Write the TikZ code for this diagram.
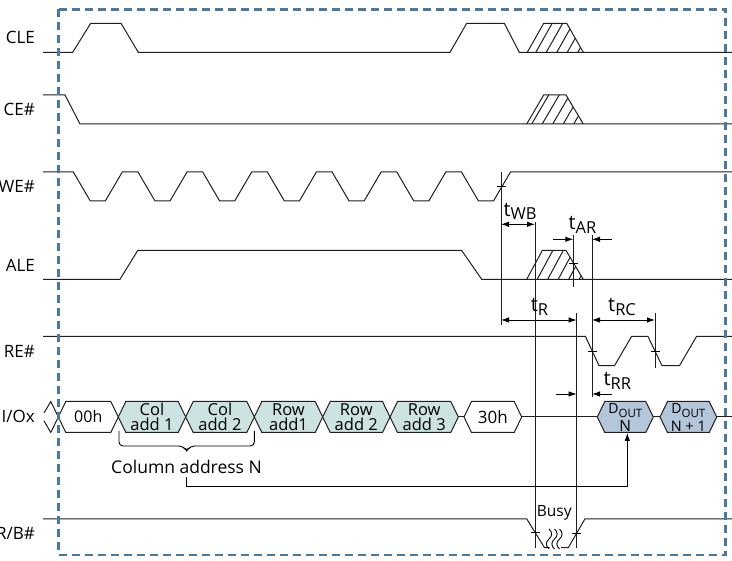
\documentclass[tikz,border=0pt]{standalone}
\usepackage{fontspec}
\setmainfont{Open Sans}
\usetikzlibrary{arrows.meta}
\definecolor{brd}{RGB}{72,121,163}
\definecolor{tealf}{RGB}{204,227,226}
\definecolor{doutf}{RGB}{180,198,217}
\newcommand{\tsub}[2]{t\raisebox{-#1}{\fontsize{16.5}{16.5}\selectfont #2}}
\newcommand{\hatchtrap}[7]{%
  \begin{scope}
    \clip (#3,#1) -- (#4,#2) -- (#5,#2) -- (#6,#1) -- cycle;
    \foreach \k in {0,...,6} \draw[sig] ({#3+#7+10.5*\k},#1) -- ++({#4-#3},{#2-#1});
  \end{scope}
  \draw[sig] (#3,#1) -- (#4,#2) -- (#5,#2) -- (#6,#1);
}
\newcommand{\hexpath}[3]{%
  \draw[sig, fill=#3] (#1,417) -- ({#1+7.5},401.5) -- ({#2-7.5},401.5) -- (#2,417) -- ({#2-7.5},432.5) -- ({#1+7.5},432.5) -- cycle;
}
\begin{document}
\begin{tikzpicture}[x=1pt,y=-1pt,
  sig/.style={line width=1pt, draw=black!88},
  guide/.style={line width=0.9pt, draw=black!88},
  lab/.style={anchor=east, inner sep=0pt, font=\fontsize{17}{17}\selectfont},
  hext/.style={inner sep=0pt, align=center, font=\fontsize{16.5}{15.5}\selectfont},
  tlab/.style={anchor=base west, inner sep=0pt, font=\fontsize{20}{20}\selectfont},
  dimar/.style={line width=0.9pt, {Latex[length=8pt,width=5.5pt]}-{Latex[length=8pt,width=5.5pt]}},
  onear/.style={line width=0.9pt, -{Latex[length=8pt,width=5.5pt]}},
  tickm/.style={line width=0.9pt}]
\fill[white] (0,0) rectangle (732,561);
\useasboundingbox (0,0) rectangle (732,561);

% labels
\node[lab] (lcle) at (35,37.5) {CLE};
\node[lab] (lce) at (35,109.5) {CE\#};
\node[lab] (lwe) at (35,186.5) {WE\#};
\node[lab] (lale) at (35,265) {ALE};
\node[lab] (lre) at (35,351) {RE\#};
\node[lab] (lio) at (35,416) {I/Ox};
\node[lab] (lrb) at (35,533) {R/B\#};

% CLE
\draw[sig] (43,52.3) -- (72.7,52.3) -- (90.7,23.3) -- (121,23.3) -- (138.3,52.3) -- (450,52.3) -- (466.7,23.3) -- (504.3,23.3) -- (519.3,52.3) -- (732,52.3);
\hatchtrap{52.3}{23.3}{527.3}{543.7}{566.7}{583.3}{8.5}
% CE#
\draw[sig] (43,95) -- (65,95) -- (80,124) -- (732,124);
\hatchtrap{124}{95}{526.7}{543.7}{566}{583.3}{5}
% WE#
\draw[sig] (43,172) \foreach \k in {0,...,6} { -- ({73.3+64.7*\k},172) -- ({90.3+64.7*\k},201) -- ({105.3+64.7*\k},201) -- ({122.3+64.7*\k},172) } -- (732,172);
% ALE
\draw[sig] (43,279.3) -- (120,279.3) -- (137.7,250.5) -- (461.7,250.5) -- (481.7,279.3) -- (732,279.3);
\hatchtrap{279.3}{250.5}{526.7}{542.3}{566}{583.3}{10.5}
% RE#
\draw[sig] (43,336.5) -- (585.5,336.5) -- (599,365.7) -- (614.5,365.7) -- (631.5,336.5) -- (648,336.5) -- (662,365.7) -- (679.5,365.7) -- (696.5,336.5) -- (732,336.5);
% R/B#
\draw[sig] (43,518.8) -- (526.7,518.8) -- (544.5,547.7) -- (549.5,547.7);
\draw[sig] (561,547.7) -- (568.3,547.7) -- (585,518.8) -- (732,518.8);
\foreach \xx in {549,554.5,559.5}
  \draw[line width=0.9pt] (\xx,529) .. controls ({\xx+3.5},532) and ({\xx+3.5},536) .. (\xx,539) .. controls ({\xx-3.5},542) and ({\xx-3.5},546) .. (\xx,549);
\node[inner sep=0pt, font=\fontsize{15.5}{15.5}\selectfont] (busy) at (554.3,513.3) {Busy};

% I/O bus
\draw[sig] (44,413) -- (50.8,401.5) -- (58.3,417) -- (50.8,432.5) -- (44,421);
\draw[sig] (458.3,417) -- (464,417);
\draw[sig] (521.7,417) -- (597.3,417);
\draw[sig] (653.3,417) -- (660,417);
\draw[sig] (716.7,417) -- (732,417);
\hexpath{58.3}{118.3}{white}
\hexpath{118.3}{185.7}{tealf}
\hexpath{185.7}{254.3}{tealf}
\hexpath{254.3}{322.7}{tealf}
\hexpath{322.7}{390}{tealf}
\hexpath{390}{458.3}{tealf}
\hexpath{464}{521.7}{white}
\hexpath{597.3}{653.3}{doutf}
\hexpath{660}{716.7}{doutf}
\node[hext, font=\fontsize{16}{16}\selectfont] (h00) at (88.3,417) {00h};
\node[hext] (hc1) at (152,417) {Col\\add 1};
\node[hext] (hc2) at (220,417) {Col\\add 2};
\node[hext] (hr1) at (288.5,417) {Row\\add1};
\node[hext] (hr2) at (356.3,417) {Row\\add 2};
\node[hext] (hr3) at (424.2,417) {Row\\add 3};
\node[hext, font=\fontsize{17}{17}\selectfont] (h30) at (492.8,417) {30h};
\node[anchor=base, inner sep=0pt, font=\fontsize{14}{14}\selectfont] (doutNa) at (625.3,413.3) {D\raisebox{-4.5pt}{\fontsize{11.5}{11.5}\selectfont OUT}};
\node[anchor=base, inner sep=0pt, font=\fontsize{15.5}{15.5}\selectfont] (doutNb) at (625.3,431.7) {N};
\node[anchor=base, inner sep=0pt, font=\fontsize{14}{14}\selectfont] (doutMa) at (688.3,413.3) {D\raisebox{-4.5pt}{\fontsize{11.5}{11.5}\selectfont OUT}};
\node[anchor=base, inner sep=0pt, font=\fontsize{14.5}{14.5}\selectfont] (doutMb) at (688.3,431.7) {N + 1};

% brace and column address
\draw[line width=0.9pt, rounded corners=4pt] (119,431) -- (119,446) -- (183,446) -- (186.7,451.5) -- (190.4,446) -- (254.3,446) -- (254.3,431);
\node[inner sep=3.5pt, font=\fontsize{17.5}{17.5}\selectfont] (coladdr) at (186.5,467) {Column address N};
\coordinate (turn) at (627.3,486);
\coordinate (doutbot) at (627.3,433);
\draw[onear] (coladdr.south) |- (turn) -- (doutbot);

% guide lines
\draw[guide] (501,171.7) -- (501,325);
\draw[guide] (535,221.7) -- (535,548);
\draw[guide] (573.3,235) -- (573.3,287.3);
\draw[guide] (576.7,313) -- (576.7,548);
\draw[guide] (592,235) -- (592,397);
\draw[guide] (655,313) -- (655,368);
% ticks
\foreach \px/\py in {501/186.5, 573.3/263, 592/351, 655/351, 535/532.3, 576.7/533}
  \draw[tickm] ({\px-4.5},\py) -- ({\px+4.5},\py);

% timing arrows
\draw[dimar] (501,224.3) -- (535,224.3);
\draw[onear] (553.3,239.3) -- (573.3,239.3);
\draw[onear] (612.3,239.3) -- (592,239.3);
\draw[dimar] (501,320) -- (576.7,320);
\draw[dimar] (592,320) -- (655,320);
\draw[onear] (555.7,394) -- (576.7,394);
\draw[onear] (611.7,394) -- (592,394);

% timing labels
\node[tlab] (twb) at (503.3,216.7) {\tsub{3.3pt}{WB}};
\node[tlab] (tar) at (568.3,230) {\tsub{3.3pt}{AR}};
\node[tlab] (tr) at (530.7,311.7) {\tsub{4.3pt}{R}};
\node[tlab] (trc) at (608,311.7) {\tsub{4.3pt}{RC}};
\node[tlab] (trr) at (603.3,386) {\tsub{3.3pt}{RR}};

% dashed frame
\draw[brd, line width=2.6pt, dash pattern=on 8pt off 5pt] (58.3,9.3) rectangle (725.7,555);
\end{tikzpicture}
\end{document}
